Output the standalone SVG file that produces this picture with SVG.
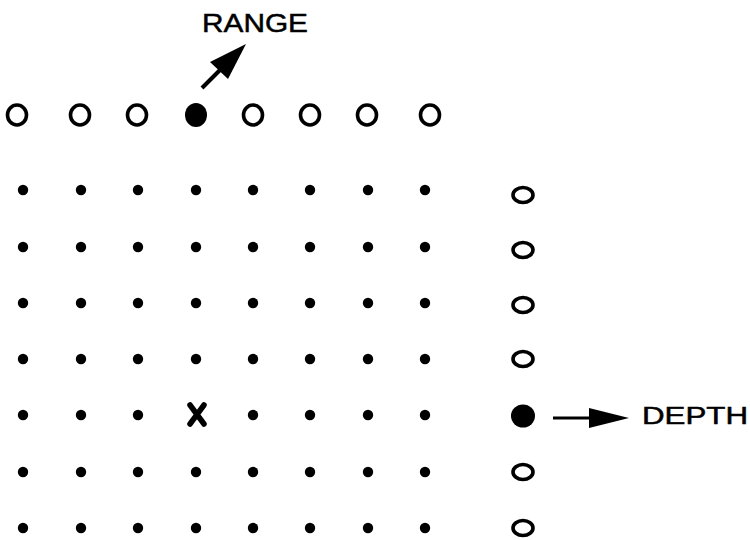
<svg xmlns="http://www.w3.org/2000/svg" width="750" height="540" viewBox="0 0 750 540">
<style>
.o{fill:none;stroke:#000;stroke-width:3.6}
.f{fill:#000}
.d{fill:#000}
.t{font-family:"Liberation Sans",Arial,sans-serif;fill:#000;stroke:#000;stroke-width:0.5}
</style>
<rect width="750" height="540" fill="#fff"/>
<g id="range-row">
<ellipse class="o" cx="17" cy="115" rx="9.5" ry="10"/>
<ellipse class="o" cx="80" cy="115" rx="9.5" ry="10"/>
<ellipse class="o" cx="137" cy="115" rx="9.5" ry="10"/>
<ellipse class="f" cx="196" cy="115" rx="11" ry="12"/>
<ellipse class="o" cx="253" cy="115" rx="9.5" ry="10"/>
<ellipse class="o" cx="310" cy="115" rx="9.5" ry="10"/>
<ellipse class="o" cx="367" cy="115" rx="9.5" ry="10"/>
<ellipse class="o" cx="430" cy="115" rx="9.5" ry="10"/>
</g>
<g id="grid">
<g id="row1"><circle class="d" cx="23" cy="190" r="5.2"/><circle class="d" cx="81" cy="190" r="5.2"/><circle class="d" cx="138" cy="190" r="5.2"/><circle class="d" cx="196" cy="190" r="5.2"/><circle class="d" cx="253" cy="190" r="5.2"/><circle class="d" cx="310" cy="190" r="5.2"/><circle class="d" cx="368" cy="190" r="5.2"/><circle class="d" cx="425" cy="190" r="5.2"/></g>
<g id="row2"><circle class="d" cx="23" cy="247" r="5.2"/><circle class="d" cx="81" cy="247" r="5.2"/><circle class="d" cx="138" cy="247" r="5.2"/><circle class="d" cx="196" cy="247" r="5.2"/><circle class="d" cx="253" cy="247" r="5.2"/><circle class="d" cx="310" cy="247" r="5.2"/><circle class="d" cx="368" cy="247" r="5.2"/><circle class="d" cx="425" cy="247" r="5.2"/></g>
<g id="row3"><circle class="d" cx="23" cy="303" r="5.2"/><circle class="d" cx="81" cy="303" r="5.2"/><circle class="d" cx="138" cy="303" r="5.2"/><circle class="d" cx="196" cy="303" r="5.2"/><circle class="d" cx="253" cy="303" r="5.2"/><circle class="d" cx="310" cy="303" r="5.2"/><circle class="d" cx="368" cy="303" r="5.2"/><circle class="d" cx="425" cy="303" r="5.2"/></g>
<g id="row4"><circle class="d" cx="23" cy="359" r="5.2"/><circle class="d" cx="81" cy="359" r="5.2"/><circle class="d" cx="138" cy="359" r="5.2"/><circle class="d" cx="196" cy="359" r="5.2"/><circle class="d" cx="253" cy="359" r="5.2"/><circle class="d" cx="310" cy="359" r="5.2"/><circle class="d" cx="368" cy="359" r="5.2"/><circle class="d" cx="425" cy="359" r="5.2"/></g>
<g id="row5"><circle class="d" cx="23" cy="415" r="5.2"/><circle class="d" cx="81" cy="415" r="5.2"/><circle class="d" cx="138" cy="415" r="5.2"/><circle class="d" cx="253" cy="415" r="5.2"/><circle class="d" cx="310" cy="415" r="5.2"/><circle class="d" cx="368" cy="415" r="5.2"/><circle class="d" cx="425" cy="415" r="5.2"/></g>
<g id="row6"><circle class="d" cx="23" cy="472" r="5.2"/><circle class="d" cx="81" cy="472" r="5.2"/><circle class="d" cx="138" cy="472" r="5.2"/><circle class="d" cx="196" cy="472" r="5.2"/><circle class="d" cx="253" cy="472" r="5.2"/><circle class="d" cx="310" cy="472" r="5.2"/><circle class="d" cx="368" cy="472" r="5.2"/><circle class="d" cx="425" cy="472" r="5.2"/></g>
<g id="row7"><circle class="d" cx="23" cy="528" r="5.2"/><circle class="d" cx="81" cy="528" r="5.2"/><circle class="d" cx="138" cy="528" r="5.2"/><circle class="d" cx="196" cy="528" r="5.2"/><circle class="d" cx="253" cy="528" r="5.2"/><circle class="d" cx="310" cy="528" r="5.2"/><circle class="d" cx="368" cy="528" r="5.2"/><circle class="d" cx="425" cy="528" r="5.2"/></g>
</g>
<g id="x-mark"><path d="M190 405 L204 424 M204 405 L190 424" stroke="#000" stroke-width="5.5" stroke-linecap="round" fill="none"/></g>
<g id="depth-col">
<ellipse class="o" cx="523" cy="195" rx="10" ry="7.5"/>
<ellipse class="o" cx="523" cy="250" rx="10" ry="7.5"/>
<ellipse class="o" cx="523" cy="305" rx="10" ry="7.5"/>
<ellipse class="o" cx="523" cy="359" rx="10" ry="7.5"/>
<ellipse class="f" cx="523" cy="416" rx="12" ry="11.5"/>
<ellipse class="o" cx="523" cy="472" rx="10" ry="7.5"/>
<ellipse class="o" cx="523" cy="528" rx="10" ry="7.5"/>
</g>
<g id="connectors">
<line x1="202" y1="88" x2="222" y2="68" stroke="#000" stroke-width="4"/>
<polygon points="246,44 228,79 210,62" fill="#000"/>
<line x1="553" y1="418" x2="595" y2="418" stroke="#000" stroke-width="3"/>
<polygon points="629,418 589,408 589,428" fill="#000"/>
</g>
<g id="labels">
<text class="t" x="202" y="32" font-size="26" textLength="106" lengthAdjust="spacingAndGlyphs">RANGE</text>
<text class="t" x="642" y="424" font-size="23.5" textLength="106" lengthAdjust="spacingAndGlyphs">DEPTH</text>
</g>
</svg>
